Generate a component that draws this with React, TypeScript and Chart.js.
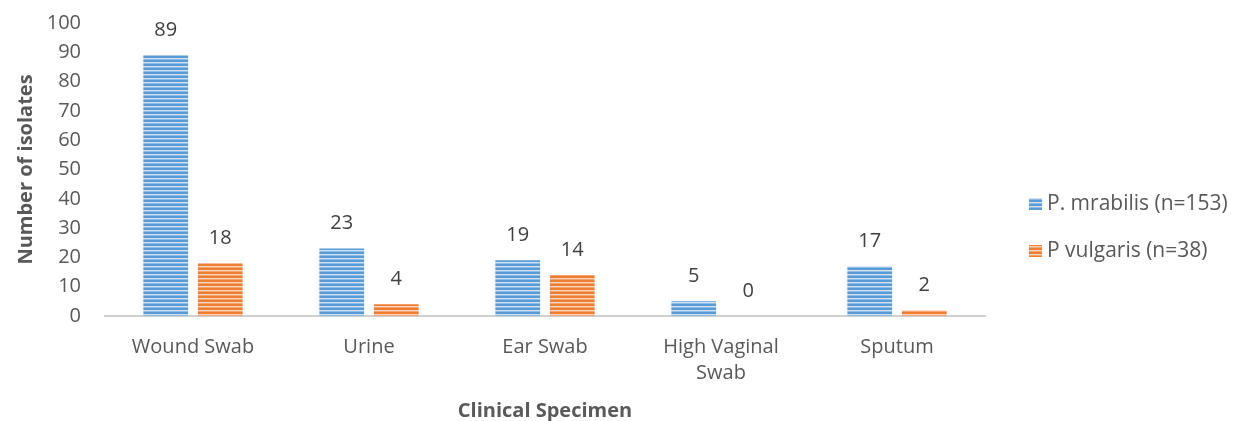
import React, { useEffect, useRef } from "react";
import { Chart, registerables } from "chart.js";

Chart.register(...registerables);

const categories: (string | string[])[] = ["Wound Swab", "Urine", "Ear Swab", ["High Vaginal", "Swab"], "Sputum"];
const mirabilisValues = [89, 23, 19, 5, 17];
const vulgarisValues = [18, 4, 14, 0, 2];
const seriesLabels = ["P. mrabilis (n=153)", "P vulgaris (n=38)"];
const yTicks = [0, 10, 20, 30, 40, 50, 60, 70, 80, 90, 100];

const FONT = "'Open Sans', Lato, sans-serif";
const TEXT = "#595959";

function stripe(dark: string, mid: string, light: string): CanvasPattern | string {
  const c = document.createElement("canvas");
  c.width = 8;
  c.height = 4;
  const ctx = c.getContext("2d");
  if (!ctx) return dark;
  ctx.fillStyle = dark;
  ctx.fillRect(0, 0, 8, 4);
  ctx.fillStyle = light;
  ctx.fillRect(0, 2, 8, 1);
  ctx.fillStyle = mid;
  ctx.fillRect(0, 3, 8, 1);
  const p = ctx.createPattern(c, "repeat");
  return p || dark;
}

export default function App() {
  const ref = useRef<HTMLCanvasElement | null>(null);
  useEffect(() => {
    document.body.style.margin = "0";
    const canvas = ref.current;
    if (!canvas) return;
    const blue = stripe("#5B9BD5", "#8dbbe4", "#d0e3f4");
    const orange = stripe("#ED7D31", "#f3a271", "#fad6bf");

    const labelPlugin = {
      id: "valueLabels",
      afterDatasetsDraw(chart: any) {
        const ctx = chart.ctx;
        ctx.save();
        ctx.font = `20px ${FONT}`;
        ctx.fillStyle = "#404040";
        ctx.textAlign = "center";
        ctx.textBaseline = "middle";
        chart.data.datasets.forEach((ds: any, i: number) => {
          const meta = chart.getDatasetMeta(i);
          meta.data.forEach((bar: any, j: number) => {
            ctx.fillText(String(ds.data[j]), bar.x, bar.y - 25);
          });
        });
        ctx.restore();
      },
    };

    const legendPlugin = {
      id: "customLegend",
      afterDraw(chart: any) {
        const ctx = chart.ctx;
        ctx.save();
        ctx.font = `21px ${FONT}`;
        ctx.textBaseline = "middle";
        ctx.textAlign = "left";
        const fills = [blue, orange];
        const ys = [204, 251];
        seriesLabels.forEach((t, i) => {
          ctx.fillStyle = fills[i] as any;
          ctx.fillRect(1029, ys[i] - 6, 13, 12);
          ctx.fillStyle = TEXT;
          ctx.fillText(t, 1047, ys[i]);
        });
        ctx.restore();
      },
    };

    const chart = new Chart(canvas, {
      type: "bar",
      data: {
        labels: categories as any,
        datasets: [
          { label: seriesLabels[0], data: mirabilisValues, backgroundColor: blue as any, borderWidth: 0 },
          { label: seriesLabels[1], data: vulgarisValues, backgroundColor: orange as any, borderWidth: 0 },
        ],
      },
      options: {
        animation: false,
        responsive: false,
        maintainAspectRatio: false,
        layout: { padding: { left: 0, right: 253, top: 23, bottom: 0 } },
        plugins: {
          legend: { display: false },
          tooltip: { enabled: false },
        },
        datasets: {
          bar: { categoryPercentage: 0.62, barPercentage: 0.82 },
        } as any,
        scales: {
          x: {
            grid: { display: false, drawTicks: false },
            border: { display: true, color: "#d0d0d0", width: 2 },
            ticks: { color: TEXT, font: { family: FONT, size: 20, lineHeight: 1.3 }, padding: 18, maxRotation: 0, autoSkip: false },
            title: {
              display: true,
              text: "Clinical Specimen",
              color: TEXT,
              font: { family: FONT, size: 20, weight: "bold", lineHeight: 1.0 },
              padding: { top: 4, bottom: 0 },
            },
            afterFit(scale: any) {
              scale.height = 105;
              scale.paddingLeft = 0;
              scale.paddingRight = 0;
            },
          },
          y: {
            min: 0,
            max: 100,
            afterBuildTicks(scale: any) {
              scale.ticks = yTicks.map((v) => ({ value: v }));
            },
            grid: { display: false, drawTicks: false },
            border: { display: false },
            ticks: { color: TEXT, font: { family: FONT, size: 20 }, padding: 24 },
            title: {
              display: true,
              text: "Number of isolates",
              color: TEXT,
              font: { family: FONT, size: 20, weight: "bold" },
              padding: { top: 14, bottom: 4 },
            },
            afterFit(scale: any) {
              scale.width = 105;
              scale.paddingTop = 0;
              scale.paddingBottom = 0;
            },
          },
        },
      },
      plugins: [labelPlugin, legendPlugin],
    });
    return () => chart.destroy();
  }, []);
  return (
    <div style={{ width: 1238, height: 421, background: "#fff" }}>
      <canvas ref={ref} width={1238} height={421} style={{ display: "block", width: 1238, height: 421 }} />
    </div>
  );
}
